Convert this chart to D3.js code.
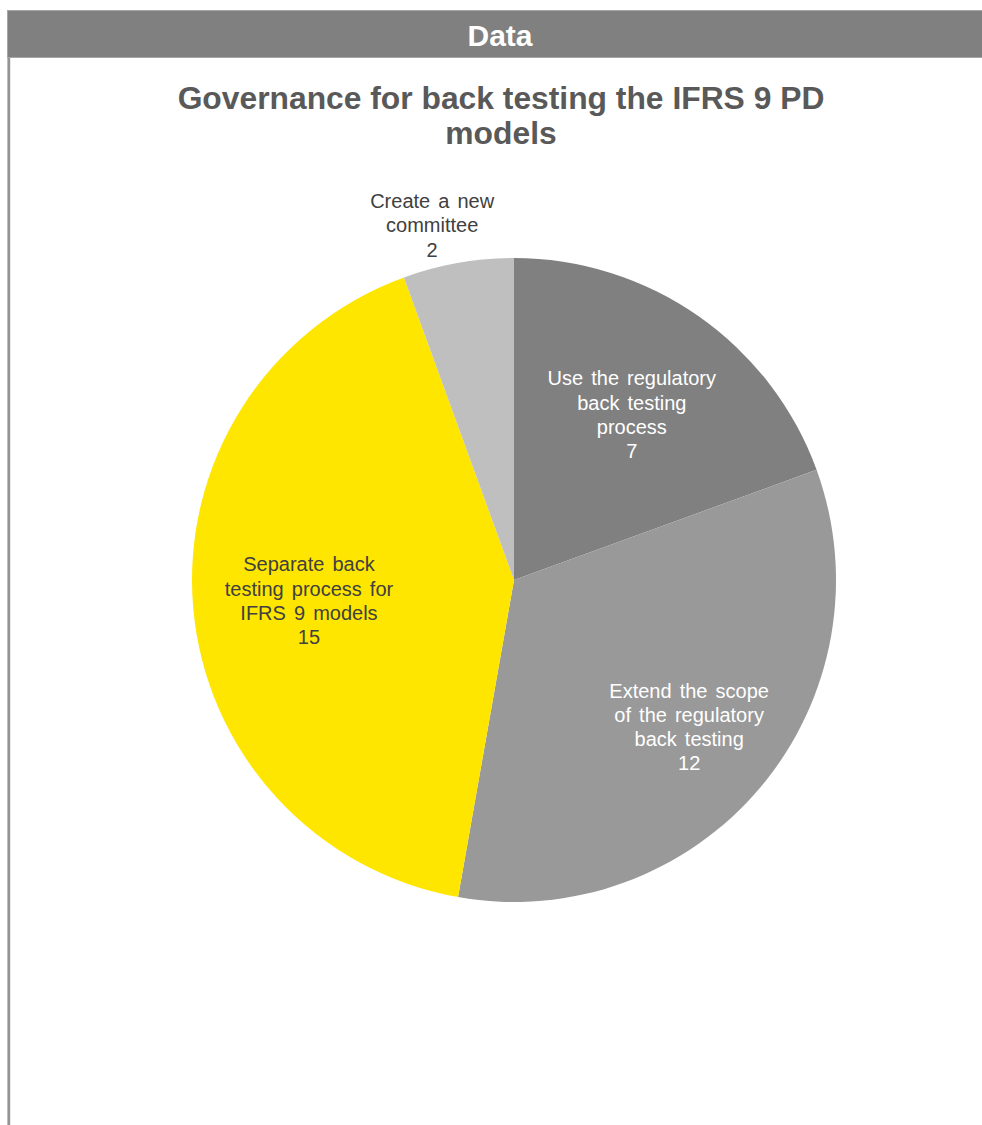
<!DOCTYPE html>
<html>
<head>
<meta charset="utf-8">
<script src="https://cdn.jsdelivr.net/npm/d3@7"></script>
<style>
  html, body { margin: 0; padding: 0; background: #ffffff; }
  svg { display: block; font-family: "Liberation Sans", Arial, sans-serif; }
</style>
</head>
<body>
<svg id="chart" width="982" height="1125"></svg>
<script>
// Survey responses: governance approach for back testing IFRS 9 PD models
const categories = [
  "Use the regulatory back testing process",
  "Extend the scope of the regulatory back testing",
  "Separate back testing process for IFRS 9 models",
  "Create a new committee"
];
const counts = [7, 12, 15, 2];
// Line breaks used when the category names are drawn
const labelLines = [
  ["Use the regulatory", "back testing", "process"],
  ["Extend the scope", "of the regulatory", "back testing"],
  ["Separate back", "testing process for", "IFRS 9 models"],
  ["Create a new", "committee"]
];
const sliceColors = ["#808080", "#999999", "#FFE600", "#BFBFBF"];
const labelColors = ["#ffffff", "#ffffff", "#404040", "#404040"];
// Label placement: radius as a fraction of the pie radius, plus an angular nudge (degrees)
const labelRadius = [0.63, 0.71, 0.64, 1.13];
const labelNudge = [0.5, 0, -0.8, -3];

const headerText = "Data";
const titleLines = ["Governance for back testing the IFRS 9 PD", "models"];

const svg = d3.select("#chart");
const W = 982;

// Panel frame: header band and left rule
svg.append("rect")
  .attr("x", 7.5).attr("y", 10.5)
  .attr("width", W).attr("height", 47)
  .attr("fill", "#808080")
  .attr("stroke", "#a6a6a6").attr("stroke-width", 1);
svg.append("line")
  .attr("x1", 8.8).attr("x2", 8.8)
  .attr("y1", 58).attr("y2", 1125)
  .attr("stroke", "#949494").attr("stroke-width", 2.8);
svg.append("text")
  .attr("x", 500).attr("y", 46)
  .attr("text-anchor", "middle")
  .attr("font-size", 30).attr("font-weight", "bold")
  .attr("fill", "#ffffff")
  .text(headerText);

// Chart title
svg.append("g").selectAll("text")
  .data(titleLines)
  .join("text")
  .attr("x", 501)
  .attr("y", (d, i) => 109 + i * 35)
  .attr("text-anchor", "middle")
  .attr("font-size", 31.8).attr("font-weight", "bold")
  .attr("fill", "#595959")
  .text(d => d);

// Pie
const cx = 514, cy = 580, R = 322;
const pie = d3.pie().sort(null).value(d => d.value);
const rows = categories.map((c, i) => ({ name: c, value: counts[i], i }));
const arcs = pie(rows);
const arc = d3.arc().innerRadius(0).outerRadius(R);

const g = svg.append("g").attr("transform", `translate(${cx},${cy})`);
g.selectAll("path")
  .data(arcs)
  .join("path")
  .attr("d", arc)
  .attr("fill", d => sliceColors[d.data.i]);

// Data labels: category name lines followed by the count
const lineH = 24.3;
const labels = g.selectAll("g.lbl")
  .data(arcs)
  .join("g")
  .attr("class", "lbl")
  .attr("transform", d => {
    const a = (d.startAngle + d.endAngle) / 2 + labelNudge[d.data.i] * Math.PI / 180;
    const r = R * labelRadius[d.data.i];
    return `translate(${r * Math.sin(a)},${-r * Math.cos(a)})`;
  });

labels.each(function(d) {
  const lines = labelLines[d.data.i].concat([String(d.data.value)]);
  const n = lines.length;
  d3.select(this).selectAll("text")
    .data(lines)
    .join("text")
    .attr("x", 0)
    .attr("y", (t, k) => (k - (n - 1) / 2) * lineH)
    .attr("dy", "0.35em")
    .attr("text-anchor", "middle")
    .attr("font-size", 20)
    .attr("word-spacing", 2.5)
    .attr("fill", labelColors[d.data.i])
    .text(t => t);
});
</script>
</body>
</html>
